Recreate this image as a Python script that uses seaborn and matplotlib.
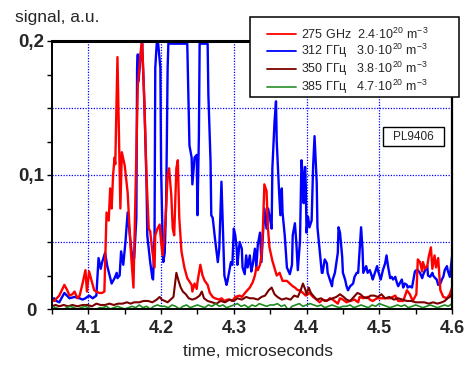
import numpy as np
import pandas as pd
import matplotlib
matplotlib.use("Agg")
import matplotlib.pyplot as plt
import seaborn as sns
from matplotlib.ticker import FixedLocator, FixedFormatter
from matplotlib.lines import Line2D
from matplotlib.patches import Rectangle

sns.set_style("white")
plt.rcParams['font.family'] = ['Liberation Sans', 'DejaVu Sans']
plt.rcParams['mathtext.fontset'] = 'custom'
plt.rcParams['mathtext.rm'] = 'Liberation Sans'
plt.rcParams['mathtext.it'] = 'Liberation Sans:italic'
plt.rcParams['mathtext.bf'] = 'Liberation Sans:bold'

# ---------------- data ----------------
t_red = [4.049, 4.053, 4.060, 4.067, 4.071, 4.074, 4.078, 4.081, 4.085, 4.088, 4.092, 4.096, 4.098,
         4.101, 4.104, 4.108, 4.111, 4.115, 4.119, 4.122, 4.125, 4.128, 4.130, 4.132, 4.134, 4.136,
         4.137, 4.140, 4.143, 4.144, 4.146, 4.150, 4.154, 4.158, 4.162, 4.166, 4.168, 4.173, 4.174,
         4.177, 4.180, 4.183, 4.185, 4.188, 4.191, 4.192, 4.195, 4.198, 4.200, 4.202, 4.206, 4.209,
         4.211, 4.214, 4.216, 4.218, 4.221, 4.223, 4.225, 4.228, 4.232, 4.236, 4.242, 4.243, 4.246,
         4.249, 4.250, 4.254, 4.257, 4.260, 4.264, 4.267, 4.271, 4.274, 4.280, 4.283, 4.287, 4.291,
         4.294, 4.298, 4.302, 4.308, 4.311, 4.317, 4.322, 4.326, 4.329, 4.331, 4.333, 4.336, 4.338,
         4.340, 4.342, 4.345, 4.347, 4.349, 4.353, 4.359, 4.363, 4.367, 4.373, 4.377, 4.381, 4.384,
         4.388, 4.391, 4.395, 4.399, 4.404, 4.409, 4.414, 4.418, 4.422, 4.428, 4.432, 4.436, 4.443,
         4.446, 4.450, 4.455, 4.460, 4.466, 4.471, 4.473, 4.478, 4.484, 4.487, 4.491, 4.497, 4.505,
         4.515, 4.522, 4.526, 4.533, 4.538, 4.542, 4.546, 4.551, 4.553, 4.556, 4.559, 4.560, 4.563,
         4.566, 4.568, 4.571, 4.573, 4.576, 4.578, 4.581, 4.584, 4.588, 4.593, 4.597, 4.600]
v_red = [0.007, 0.006, 0.010, 0.018, 0.014, 0.010, 0.011, 0.013, 0.008, 0.010, 0.019, 0.029, 0.013,
         0.028, 0.022, 0.014, 0.013, 0.012, 0.012, 0.013, 0.072, 0.066, 0.090, 0.075, 0.100, 0.113,
         0.108, 0.188, 0.105, 0.075, 0.117, 0.107, 0.087, 0.046, 0.016, 0.117, 0.167, 0.198, 0.198,
         0.154, 0.098, 0.060, 0.058, 0.043, 0.031, 0.055, 0.060, 0.063, 0.050, 0.040, 0.065, 0.100,
         0.105, 0.085, 0.060, 0.055, 0.105, 0.111, 0.068, 0.043, 0.031, 0.023, 0.018, 0.013, 0.019,
         0.015, 0.020, 0.033, 0.025, 0.021, 0.018, 0.012, 0.009, 0.008, 0.007, 0.008, 0.006, 0.007,
         0.007, 0.006, 0.009, 0.010, 0.009, 0.013, 0.016, 0.020, 0.025, 0.031, 0.029, 0.033, 0.040,
         0.060, 0.093, 0.088, 0.060, 0.046, 0.036, 0.025, 0.027, 0.021, 0.021, 0.019, 0.017, 0.016,
         0.014, 0.014, 0.012, 0.010, 0.012, 0.009, 0.007, 0.005, 0.007, 0.006, 0.008, 0.007, 0.004,
         0.008, 0.007, 0.005, 0.006, 0.007, 0.005, 0.009, 0.008, 0.009, 0.007, 0.006, 0.008, 0.008,
         0.008, 0.010, 0.006, 0.006, 0.014, 0.011, 0.006, 0.011, 0.037, 0.035, 0.028, 0.035, 0.030,
         0.032, 0.039, 0.046, 0.030, 0.040, 0.031, 0.038, 0.014, 0.009, 0.008, 0.011, 0.016]

t_blue = [4.049, 4.053, 4.056, 4.060, 4.067, 4.074, 4.081, 4.088, 4.092, 4.096, 4.101, 4.106, 4.111,
          4.114, 4.117, 4.119, 4.123, 4.126, 4.132, 4.136, 4.139, 4.140, 4.143, 4.145, 4.148, 4.151,
          4.154, 4.158, 4.161, 4.163, 4.166, 4.167, 4.168, 4.169, 4.172, 4.174, 4.177, 4.180, 4.181,
          4.185, 4.188, 4.189, 4.191, 4.192, 4.194, 4.196, 4.199, 4.200, 4.202, 4.203, 4.205, 4.207,
          4.209, 4.210, 4.236, 4.239, 4.242, 4.243, 4.246, 4.249, 4.250, 4.252, 4.253, 4.264, 4.265,
          4.268, 4.269, 4.271, 4.274, 4.278, 4.280, 4.283, 4.285, 4.287, 4.290, 4.291, 4.296, 4.298,
          4.300, 4.302, 4.304, 4.305, 4.308, 4.311, 4.312, 4.315, 4.317, 4.319, 4.322, 4.324, 4.326,
          4.329, 4.331, 4.333, 4.336, 4.338, 4.340, 4.342, 4.345, 4.347, 4.349, 4.352, 4.353, 4.356,
          4.358, 4.359, 4.362, 4.364, 4.366, 4.367, 4.370, 4.373, 4.377, 4.380, 4.381, 4.384, 4.386,
          4.388, 4.391, 4.393, 4.395, 4.396, 4.398, 4.399, 4.400, 4.402, 4.404, 4.407, 4.409, 4.411,
          4.414, 4.415, 4.418, 4.421, 4.422, 4.425, 4.428, 4.429, 4.432, 4.435, 4.436, 4.439, 4.443,
          4.444, 4.446, 4.449, 4.450, 4.453, 4.455, 4.457, 4.460, 4.462, 4.464, 4.466, 4.469, 4.471,
          4.473, 4.475, 4.477, 4.478, 4.482, 4.484, 4.487, 4.490, 4.491, 4.494, 4.497, 4.498, 4.502,
          4.505, 4.508, 4.510, 4.512, 4.515, 4.517, 4.519, 4.522, 4.524, 4.526, 4.528, 4.531, 4.533,
          4.535, 4.538, 4.539, 4.542, 4.545, 4.546, 4.549, 4.551, 4.553, 4.556, 4.559, 4.560, 4.563,
          4.566, 4.567, 4.570, 4.573, 4.574, 4.577, 4.579, 4.581, 4.584, 4.586, 4.588, 4.590, 4.593,
          4.594, 4.597, 4.600]
v_blue = [0.007, 0.008, 0.006, 0.005, 0.012, 0.008, 0.009, 0.008, 0.007, 0.008, 0.010, 0.008, 0.010,
          0.038, 0.030, 0.035, 0.042, 0.032, 0.019, 0.023, 0.027, 0.023, 0.025, 0.043, 0.033, 0.050,
          0.072, 0.050, 0.035, 0.038, 0.068, 0.180, 0.190, 0.170, 0.190, 0.198, 0.154, 0.093, 0.055,
          0.035, 0.023, 0.022, 0.055, 0.180, 0.198, 0.198, 0.180, 0.105, 0.055, 0.035, 0.042, 0.080,
          0.180, 0.198, 0.198, 0.122, 0.113, 0.093, 0.113, 0.115, 0.070, 0.130, 0.198, 0.198, 0.160,
          0.110, 0.070, 0.068, 0.053, 0.035, 0.045, 0.095, 0.060, 0.025, 0.018, 0.020, 0.035, 0.033,
          0.060, 0.055, 0.045, 0.033, 0.050, 0.045, 0.031, 0.026, 0.040, 0.031, 0.040, 0.028, 0.033,
          0.045, 0.031, 0.048, 0.057, 0.035, 0.055, 0.075, 0.060, 0.075, 0.070, 0.060, 0.105, 0.140,
          0.155, 0.125, 0.090, 0.070, 0.090, 0.072, 0.055, 0.031, 0.026, 0.033, 0.055, 0.064, 0.049,
          0.029, 0.051, 0.111, 0.099, 0.079, 0.106, 0.091, 0.057, 0.069, 0.061, 0.066, 0.106, 0.129,
          0.094, 0.061, 0.044, 0.027, 0.027, 0.037, 0.034, 0.027, 0.022, 0.017, 0.022, 0.027, 0.042,
          0.061, 0.057, 0.039, 0.027, 0.022, 0.017, 0.014, 0.017, 0.018, 0.019, 0.024, 0.027, 0.027,
          0.044, 0.061, 0.044, 0.027, 0.032, 0.027, 0.029, 0.024, 0.022, 0.027, 0.032, 0.029, 0.022,
          0.029, 0.034, 0.040, 0.032, 0.023, 0.024, 0.022, 0.024, 0.020, 0.017, 0.019, 0.022, 0.016,
          0.019, 0.018, 0.016, 0.017, 0.016, 0.019, 0.028, 0.029, 0.029, 0.027, 0.023, 0.025, 0.029,
          0.032, 0.025, 0.024, 0.027, 0.025, 0.023, 0.022, 0.018, 0.019, 0.022, 0.024, 0.029, 0.032,
          0.029, 0.024, 0.039]

t_brown = [4.049, 4.055, 4.060, 4.066, 4.072, 4.078, 4.085, 4.092, 4.099, 4.105, 4.111, 4.117, 4.123,
           4.129, 4.135, 4.141, 4.147, 4.153, 4.158, 4.163, 4.170, 4.176, 4.182, 4.188, 4.194, 4.198,
           4.201, 4.205, 4.209, 4.213, 4.217, 4.219, 4.221, 4.224, 4.227, 4.230, 4.234, 4.238, 4.243,
           4.248, 4.253, 4.256, 4.259, 4.264, 4.270, 4.276, 4.282, 4.288, 4.294, 4.300, 4.305, 4.311,
           4.317, 4.322, 4.327, 4.333, 4.338, 4.343, 4.348, 4.352, 4.356, 4.360, 4.366, 4.372, 4.378,
           4.383, 4.388, 4.392, 4.395, 4.398, 4.400, 4.403, 4.406, 4.409, 4.414, 4.420, 4.425, 4.431,
           4.436, 4.441, 4.446, 4.451, 4.455, 4.460, 4.465, 4.470, 4.474, 4.478, 4.483, 4.488, 4.493,
           4.498, 4.503, 4.508, 4.514, 4.520, 4.526, 4.532, 4.538, 4.544, 4.550, 4.556, 4.562, 4.568,
           4.574, 4.580, 4.586, 4.590, 4.594, 4.597, 4.600]
v_brown = [0.002, 0.003, 0.002, 0.003, 0.002, 0.003, 0.002, 0.003, 0.003, 0.002, 0.004, 0.003, 0.003,
           0.004, 0.003, 0.004, 0.004, 0.005, 0.004, 0.005, 0.005, 0.006, 0.006, 0.005, 0.007, 0.009,
           0.007, 0.006, 0.005, 0.007, 0.009, 0.018, 0.027, 0.021, 0.016, 0.013, 0.011, 0.008, 0.007,
           0.008, 0.010, 0.013, 0.008, 0.006, 0.005, 0.004, 0.006, 0.005, 0.007, 0.006, 0.008, 0.007,
           0.009, 0.008, 0.008, 0.007, 0.009, 0.010, 0.014, 0.016, 0.011, 0.009, 0.007, 0.008, 0.007,
           0.010, 0.009, 0.014, 0.019, 0.015, 0.011, 0.016, 0.012, 0.010, 0.007, 0.008, 0.006, 0.007,
           0.008, 0.009, 0.011, 0.009, 0.007, 0.006, 0.009, 0.012, 0.011, 0.009, 0.008, 0.010, 0.010,
           0.009, 0.011, 0.008, 0.009, 0.007, 0.008, 0.007, 0.006, 0.006, 0.005, 0.005, 0.005, 0.004,
           0.005, 0.004, 0.005, 0.006, 0.008, 0.009, 0.011]

t_green = [4.050, 4.055, 4.060, 4.065, 4.070, 4.075, 4.080, 4.085, 4.090, 4.095, 4.100,
           4.105, 4.110, 4.115, 4.120, 4.125, 4.130, 4.135, 4.140, 4.145, 4.150,
           4.155, 4.160, 4.165, 4.170, 4.175, 4.180, 4.185, 4.190, 4.195, 4.200,
           4.205, 4.210, 4.215, 4.220, 4.225, 4.230, 4.235, 4.240, 4.245, 4.250,
           4.255, 4.260, 4.265, 4.270, 4.275, 4.280, 4.285, 4.290, 4.295, 4.300,
           4.305, 4.310, 4.315, 4.320, 4.325, 4.330, 4.335, 4.340, 4.345, 4.350,
           4.355, 4.360, 4.365, 4.370, 4.375, 4.380, 4.385, 4.390, 4.395, 4.400,
           4.405, 4.410, 4.415, 4.420, 4.425, 4.430, 4.435, 4.440, 4.445, 4.450,
           4.455, 4.460, 4.465, 4.470, 4.475, 4.480, 4.485, 4.490, 4.495, 4.500,
           4.505, 4.510, 4.515, 4.520, 4.525, 4.530, 4.535, 4.540, 4.545, 4.550,
           4.555, 4.560, 4.565, 4.570, 4.575, 4.580, 4.585, 4.590, 4.595, 4.600]
v_green = [0.002, 0.001, 0.000, -0.001, 0.001, 0.002, 0.001, 0.000, 0.001, 0.002, 0.001,
           0.000, -0.001, 0.001, 0.001, 0.002, 0.000, 0.001, 0.002, 0.001, 0.000,
           0.001, 0.002, 0.001, 0.003, 0.001, 0.002, 0.000, 0.002, 0.003, 0.002,
           0.002, 0.001, 0.003, 0.002, 0.000, 0.002, 0.003, 0.001, 0.002, 0.003,
           0.002, 0.001, 0.003, 0.002, 0.004, 0.002, 0.003, 0.001, 0.002, 0.003,
           0.004, 0.002, 0.003, 0.001, 0.003, 0.002, 0.004, 0.003, 0.002, 0.003,
           0.003, 0.004, 0.002, 0.003, -0.001, 0.002, 0.003, 0.004, 0.002, 0.003,
           0.004, 0.003, 0.002, 0.003, 0.001, 0.002, 0.003, 0.002, 0.001, 0.002,
           0.002, 0.003, 0.001, 0.002, 0.003, 0.002, 0.001, 0.003, 0.002, 0.004,
           0.003, 0.002, 0.001, 0.002, 0.003, 0.002, 0.003, 0.001, 0.002, 0.003,
           0.002, 0.001, 0.002, 0.003, 0.002, 0.001, 0.002, 0.003, 0.002, 0.004]

labels = ["275 GHz  2.4\u00b710$^{20}$ m$^{-3}$",
          "312 \u0413\u0413\u0446   3.0\u00b710$^{20}$ m$^{-3}$",
          "350 \u0413\u0413\u0446   3.8\u00b710$^{20}$ m$^{-3}$",
          "385 \u0413\u0413\u0446   4.7\u00b710$^{20}$ m$^{-3}$"]
colors = ['#ff0000', '#0000ff', '#7a0000', '#1e8c1e']
legend_colors = ['#ff0000', '#0000ff', '#7a0000', '#3a9a3a']

x_major = [4.1, 4.2, 4.3, 4.4, 4.5, 4.6]
x_major_labels = ['4.1', '4.2', '4.3', '4.4', '4.5', '4.6']
x_minor = [4.05, 4.15, 4.25, 4.35, 4.45, 4.55]
y_major = [0.0, 0.05, 0.1, 0.15, 0.2]
y_major_labels = ['0', '', '0,1', '', '0,2']
y_minor = [0.025, 0.075, 0.125, 0.175]

# ---------------- figure ----------------
W, H = 473, 365
fig = plt.figure(figsize=(W / 100, H / 100), dpi=100)
ax = fig.add_axes([52 / W, 56 / H, 400 / W, 268 / H])

series = [(t_blue, v_blue, colors[1], 1.7),
          (t_red, v_red, colors[0], 1.7),
          (t_brown, v_brown, colors[2], 1.5),
          (t_green, v_green, colors[3], 1.2)]
for tt, vv, c, lw in series:
    sns.lineplot(x=tt, y=vv, ax=ax, color=c, linewidth=lw, estimator=None,
                 sort=False, legend=False)

ax.set_xlim(4.05, 4.6)
ax.set_ylim(0, 0.2)
ax.set_xlabel('')
ax.set_ylabel('')

ax.xaxis.set_major_locator(FixedLocator(x_major))
ax.xaxis.set_major_formatter(FixedFormatter(x_major_labels))
ax.xaxis.set_minor_locator(FixedLocator(x_minor))
ax.yaxis.set_major_locator(FixedLocator(y_major))
ax.yaxis.set_major_formatter(FixedFormatter(y_major_labels))
ax.yaxis.set_minor_locator(FixedLocator(y_minor))

ax.grid(True, which='major', color='#0000ff', linestyle=(0, (1, 1.2)), linewidth=0.9)
ax.set_axisbelow(True)

ax.tick_params(axis='both', which='both', direction='out', color='black',
               length=3.6, width=1.0, bottom=True, left=True, top=False, right=False)
ax.tick_params(axis='x', which='major', labelsize=13, pad=4)
ax.tick_params(axis='y', which='major', labelsize=13.5, pad=11.5)
for lab in ax.get_xticklabels():
    lab.set_fontweight('bold')
for lab in ax.get_yticklabels():
    lab.set_fontweight('bold')
    lab.set_horizontalalignment('center')

for side, lw in [('top', 2.2), ('left', 1.4), ('bottom', 1.4), ('right', 1.6)]:
    ax.spines[side].set_visible(True)
    ax.spines[side].set_color('black')
    ax.spines[side].set_linewidth(lw)

# axis titles
fig.text(15 / W, 1 - 22 / H, 'signal, a.u.', fontsize=12.5, ha='left', va='baseline')
fig.text(258 / W, 1 - 356 / H, 'time, microseconds', fontsize=12.5, ha='center', va='baseline')

# legend box
rect = Rectangle((250 / W, 1 - 97 / H), 209 / W, 80 / H, transform=fig.transFigure,
                 facecolor='white', edgecolor='black', linewidth=1.1, zorder=3)
fig.add_artist(rect)
handles = [Line2D([], [], color=c, linewidth=1.3) for c in legend_colors]
leg = fig.legend(handles, labels, loc='upper left', bbox_to_anchor=(267 / W, 1 - 26.5 / H),
                 bbox_transform=fig.transFigure, frameon=False, fontsize=9,
                 handlelength=2.3, handletextpad=0.45, labelspacing=0.0,
                 borderpad=0, borderaxespad=0)
leg.set_zorder(5)

# shot label
ax.add_patch(Rectangle(((383 - 52) / 400, (309 - 146) / 268), 61 / 400, 19 / 268,
                       transform=ax.transAxes, facecolor='white', edgecolor='black',
                       linewidth=1.0, zorder=6))
ax.text((413.5 - 52) / 400, (309 - 137) / 268, 'PL9406', transform=ax.transAxes,
        ha='center', va='center', fontsize=8.5, zorder=7)

fig.savefig('out.png', dpi=100)
